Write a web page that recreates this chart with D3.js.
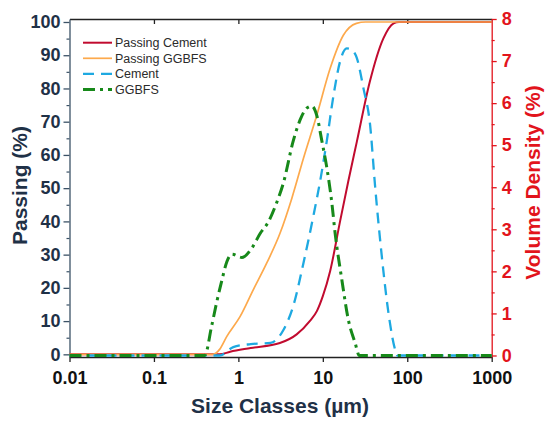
<!DOCTYPE html>
<html>
<head>
<meta charset="utf-8">
<script src="https://cdn.jsdelivr.net/npm/d3@7"></script>
<style>
  body { margin: 0; background: #fff; }
  svg { font-family: Arial, "Liberation Sans", sans-serif; }
</style>
</head>
<body>
<div id="chart"></div>
<script>
// size classes in µm
const passCementX = [0.01, 0.6, 0.8, 1.4, 3.1, 4.9, 7, 8.5, 10, 12.2, 16, 20, 25.3, 36, 52, 69, 80, 1000];
const passCementY = [0, 0, 0.8, 1.9, 3.4, 6, 10, 13, 17.5, 25, 40, 52, 64, 82, 95, 99.6, 100, 100];

const passGgbfsX = [0.01, 0.5, 0.6, 0.73, 1.05, 1.5, 2.17, 3.12, 4.3, 5.9, 8.5, 12.2, 17.5, 25, 32, 1000];
const passGgbfsY = [0, 0, 1.5, 5.4, 11.4, 19.4, 27.5, 36.5, 47, 59, 72, 86, 96, 99.6, 100, 100];

const cementX = [0.01, 0.6, 0.87, 1.4, 2.4, 3.4, 4.5, 5.9, 7.7, 9.3, 11.1, 13.4, 16, 19.2, 21.5, 25.3, 30.3, 36.3, 41.7, 50, 60, 72, 76, 1000];
const cementY = [0, 0, 0.2, 0.27, 0.3, 0.6, 1.2, 2.2, 3.3, 4.15, 5.08, 6.19, 6.99, 7.3, 7.28, 7.07, 6.35, 5.48, 4.0, 2.35, 1.0, 0.13, 0, 0];

const ggbfsX = [0.01, 0.4, 0.48, 0.55, 0.64, 0.73, 0.84, 1.1, 1.44, 1.81, 2.27, 2.8, 3.41, 4.49, 5.38, 6.45, 7.4, 8.5, 9.7, 11.1, 12.8, 14, 16.8, 20.1, 24.2, 27, 1000];
const ggbfsY = [0, 0, 0.68, 1.24, 1.8, 2.23, 2.41, 2.33, 2.55, 2.9, 3.18, 3.6, 4.1, 5.12, 5.6, 5.88, 5.93, 5.7, 5.12, 4.49, 3.62, 2.9, 1.8, 0.84, 0.29, 0, 0];

const xTicks = [0.01, 0.1, 1, 10, 100, 1000];
const leftTicks = d3.range(0, 101, 10);
const rightTicks = d3.range(0, 9, 1);

const width = 550, height = 426;
const plotLeft = 69.5, plotRight = 491.7, plotTop = 19, plotBottom = 357;

const svg = d3.select("#chart").append("svg")
  .attr("width", width)
  .attr("height", height);

const x = d3.scaleLog().domain([0.01, 1000]).range([plotLeft, plotRight]);
const yL = d3.scaleLinear().domain([-0.8, 100.9]).range([plotBottom, plotTop]);
const yR = d3.scaleLinear().domain([-0.036, 8]).range([plotBottom, plotTop]);

const navy = "#1f3147";
const red = "#e2141c";

// top axis, ticks pointing inward, no labels
svg.append("g")
  .attr("transform", `translate(0,${plotTop})`)
  .call(d3.axisBottom(x).tickValues([0.1, 1, 10, 100]).tickSize(5).tickSizeOuter(0).tickFormat(""))
  .call(g => g.selectAll("path,line").attr("stroke", "#222").attr("stroke-width", 1.3));

// bottom axis
svg.append("g")
  .attr("transform", `translate(0,${plotBottom})`)
  .call(d3.axisBottom(x).tickValues(xTicks).tickSize(5).tickSizeOuter(0).tickFormat(d => String(d)))
  .call(g => g.selectAll("path,line").attr("stroke", "#222").attr("stroke-width", 1.3))
  .call(g => g.selectAll("text")
    .attr("fill", "#111").attr("font-size", 18).attr("font-weight", "bold").attr("dy", "1.05em"));

// left axis
svg.append("g")
  .attr("transform", `translate(${plotLeft},0)`)
  .call(d3.axisLeft(yL).tickValues(leftTicks).tickSize(6).tickSizeOuter(0).tickPadding(3))
  .call(g => g.selectAll("path,line").attr("stroke", "#3b5266").attr("stroke-width", 1.3))
  .call(g => g.selectAll("text")
    .attr("fill", navy).attr("font-size", 18).attr("font-weight", "bold"));
svg.append("g")
  .attr("transform", `translate(${plotLeft},0)`)
  .call(d3.axisLeft(yL).tickValues(d3.range(5, 100, 10)).tickSize(3).tickFormat(""))
  .call(g => g.select(".domain").remove())
  .call(g => g.selectAll("line").attr("stroke", "#3b5266").attr("stroke-width", 1.2));

// right axis
svg.append("g")
  .attr("transform", `translate(${plotRight},0)`)
  .call(d3.axisRight(yR).tickValues(rightTicks).tickSize(5).tickSizeOuter(0).tickPadding(5))
  .call(g => g.selectAll("path,line").attr("stroke", red).attr("stroke-width", 1.3))
  .call(g => g.selectAll("text")
    .attr("fill", red).attr("font-size", 18).attr("font-weight", "bold"));
svg.append("g")
  .attr("transform", `translate(${plotRight},0)`)
  .call(d3.axisRight(yR).tickValues(d3.range(0.5, 8, 1)).tickSize(3).tickFormat(""))
  .call(g => g.select(".domain").remove())
  .call(g => g.selectAll("line").attr("stroke", red).attr("stroke-width", 1.2));

// curves
const series = [
  { name: "Passing Cement", xs: passCementX, ys: passCementY, y: yL, color: "#c10b2f", w: 2, dash: null },
  { name: "Passing GGBFS", xs: passGgbfsX, ys: passGgbfsY, y: yL, color: "#fda94c", w: 1.7, dash: null },
  { name: "Cement", xs: cementX, ys: cementY, y: yR, color: "#1ea9e1", w: 2.3, dash: "11,7" },
  { name: "GGBFS", xs: ggbfsX, ys: ggbfsY, y: yR, color: "#17891a", w: 3, dash: "12,5,3,5" }
];

series.forEach(s => {
  const line = d3.line()
    .x(d => x(d[0]))
    .y(d => s.y(d[1]))
    .curve(d3.curveMonotoneX);
  svg.append("path")
    .datum(d3.zip(s.xs, s.ys))
    .attr("d", line)
    .attr("fill", "none")
    .attr("stroke", s.color)
    .attr("stroke-width", s.w)
    .attr("stroke-dasharray", s.dash);
});

// legend
const legend = svg.append("g");
series.forEach((s, i) => {
  const ly = 42.7 + i * 15.6;
  legend.append("line")
    .attr("x1", 83).attr("x2", 112)
    .attr("y1", ly).attr("y2", ly)
    .attr("stroke", s.color)
    .attr("stroke-width", s.w)
    .attr("stroke-dasharray", s.dash);
  legend.append("text")
    .attr("x", 115).attr("y", ly + 4.3)
    .attr("font-size", 12.5)
    .attr("fill", "#2b2b2b")
    .text(s.name);
});

// titles
svg.append("text")
  .attr("x", 280).attr("y", 413)
  .attr("text-anchor", "middle")
  .attr("font-size", 21).attr("font-weight", "bold")
  .attr("fill", navy)
  .text("Size Classes (µm)");

svg.append("text")
  .attr("transform", "translate(26.5,185.5) rotate(-90)")
  .attr("text-anchor", "middle")
  .attr("font-size", 21).attr("font-weight", "bold")
  .attr("fill", navy)
  .text("Passing (%)");

svg.append("text")
  .attr("transform", "translate(540,182.5) rotate(-90)")
  .attr("text-anchor", "middle")
  .attr("font-size", 21).attr("font-weight", "bold")
  .attr("fill", red)
  .text("Volume Density (%)");
</script>
</body>
</html>
